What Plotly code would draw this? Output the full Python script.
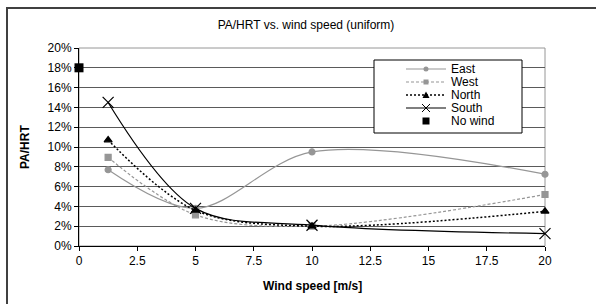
import plotly.graph_objects as go

# ---- data ----
wind_speed = [1.25, 5, 10, 20]
east = [0.077, 0.038, 0.095, 0.0725]
west = [0.0895, 0.0315, 0.020, 0.052]
north = [0.107, 0.036, 0.020, 0.035]
south = [0.145, 0.038, 0.021, 0.0125]
no_wind_x = [0]
no_wind_y = [0.18]
series_names = ["East", "West", "North", "South", "No wind"]
x_ticks = [0, 2.5, 5, 7.5, 10, 12.5, 15, 17.5, 20]
x_tick_labels = ["0", "2.5", "5", "7.5", "10", "12.5", "15", "17.5", "20"]

W, H = 596, 304
L, R, T, B = 79, 51, 48, 58
PW, PH = W - L - R, H - T - B
FONT = "Liberation Sans, Arial, sans-serif"
GRAY = "#969696"
WEST_DASH = "3px,2px"
NORTH_DASH = "2px,2px"

def px2paper(px, py):
    return (px - L) / PW, (H - B - py) / PH

fig = go.Figure()
styles = [
    (east, GRAY, "solid", "circle", 6, 1.2),
    (west, GRAY, WEST_DASH, "square", 6, 1.2),
    (north, "black", NORTH_DASH, "triangle-up", 7, 1.5),
    (south, "black", "solid", "x-thin-open", 11, 1.2),
]
for (vals, col, dash, sym, sz, lw), name in zip(styles, series_names[:4]):
    fig.add_trace(go.Scatter(
        x=wind_speed, y=vals, name=name, mode="lines+markers",
        line=dict(color=col, width=lw, dash=dash, shape="spline", smoothing=0.95),
        marker=dict(symbol=sym, size=sz, color=col, line=dict(color=col, width=1.2)),
        cliponaxis=False, showlegend=False,
    ))
fig.add_trace(go.Scatter(
    x=no_wind_x, y=no_wind_y, name=series_names[4], mode="markers",
    marker=dict(symbol="square", size=9, color="black"),
    cliponaxis=False, showlegend=False,
))

shapes = []
annotations = []
# outer chart frame (right and bottom edges lie outside the picture)
x0, y0 = px2paper(7, 312)
x1, y1 = px2paper(605, 8)
shapes.append(dict(type="rect", xref="paper", yref="paper", x0=x0, y0=y0, x1=x1, y1=y1,
                   line=dict(color="#404040", width=2), layer="below"))
# plot area border (gray)
shapes.append(dict(type="rect", xref="paper", yref="paper", x0=0, y0=0, x1=1, y1=1,
                   line=dict(color=GRAY, width=1), layer="below"))

# custom legend (compact, like the reference)
lx0, ly0 = px2paper(374, 133)
lx1, ly1 = px2paper(522, 60)
shapes.append(dict(type="rect", xref="paper", yref="paper", x0=lx0, y0=ly0, x1=lx1, y1=ly1,
                   line=dict(color="black", width=1), fillcolor="white", layer="above"))
leg_rows = [69, 82, 95, 108, 121]
leg_line = [(GRAY, "solid", 1.2), (GRAY, WEST_DASH, 1.2), ("black", NORTH_DASH, 1.5),
            ("black", "solid", 1.2), None]
MX = 426

def prect(cx, cy, h, color, kind="rect"):
    a, b = px2paper(cx - h, cy + h)
    c, d = px2paper(cx + h, cy - h)
    return dict(type=kind, xref="paper", yref="paper", x0=a, y0=b, x1=c, y1=d,
                line=dict(color=color, width=0), fillcolor=color, layer="above")

def pline(xa, ya, xb, yb, color, width=1.2, dash="solid"):
    a, b = px2paper(xa, ya)
    c, d = px2paper(xb, yb)
    return dict(type="line", xref="paper", yref="paper", x0=a, y0=b, x1=c, y1=d,
                line=dict(color=color, width=width, dash=dash), layer="above")

for i, py in enumerate(leg_rows):
    if leg_line[i] is not None:
        col, dash, lw = leg_line[i]
        shapes.append(pline(406, py, 446, py, col, lw, dash))
    tx, ty = px2paper(449, py)
    annotations.append(dict(xref="paper", yref="paper", x=tx, y=ty, text=series_names[i],
                            showarrow=False, font=dict(color="black", size=12, family=FONT),
                            xanchor="left", yanchor="middle"))
# legend symbols
shapes.append(prect(MX, leg_rows[0], 2.5, GRAY, "circle"))
shapes.append(prect(MX, leg_rows[1], 2.5, GRAY))
ta = px2paper(MX - 3.5, leg_rows[2] + 3)
tb = px2paper(MX + 3.5, leg_rows[2] + 3)
tc = px2paper(MX, leg_rows[2] - 3.5)
shapes.append(dict(type="path", xref="paper", yref="paper",
                   path=f"M {ta[0]},{ta[1]} L {tb[0]},{tb[1]} L {tc[0]},{tc[1]} Z",
                   fillcolor="black", line=dict(color="black", width=0), layer="above"))
shapes.append(pline(MX - 4, leg_rows[3] - 4, MX + 4, leg_rows[3] + 4, "black", 1))
shapes.append(pline(MX - 4, leg_rows[3] + 4, MX + 4, leg_rows[3] - 4, "black", 1))
shapes.append(prect(MX, leg_rows[4], 3.5, "black"))

# axis titles
ax, ay = px2paper(312, 286)
annotations.append(dict(xref="paper", yref="paper", x=ax, y=ay, text="<b>Wind speed [m/s]</b>",
                        showarrow=False, font=dict(size=12, family=FONT, color="black"),
                        xanchor="center", yanchor="middle"))
bx, by = px2paper(25, 147)
annotations.append(dict(xref="paper", yref="paper", x=bx, y=by, text="<b>PA/HRT</b>",
                        showarrow=False, textangle=-90,
                        font=dict(size=12, family=FONT, color="black"),
                        xanchor="center", yanchor="middle"))

fig.update_layout(
    width=W, height=H,
    margin=dict(l=L, r=R, t=T, b=B),
    paper_bgcolor="white", plot_bgcolor="white",
    font=dict(family=FONT, size=12, color="black"),
    title=dict(text="PA/HRT vs. wind speed (uniform)", x=306 / W, xref="container",
               xanchor="center", y=1 - 25 / H, yref="container", yanchor="middle",
               font=dict(size=12, family=FONT, color="black")),
    showlegend=False,
    shapes=shapes,
    annotations=annotations,
)
fig.update_xaxes(
    range=[0, 20], tickvals=x_ticks, ticktext=x_tick_labels,
    showgrid=False, zeroline=False, showline=True, linecolor="black", linewidth=1,
    ticks="outside", ticklen=4, tickcolor="black", tickfont=dict(size=12),
)
fig.update_yaxes(
    range=[0, 0.20], dtick=0.02, tickformat=".0%",
    showgrid=True, gridcolor="#5a5a5a", gridwidth=1, zeroline=False,
    showline=True, linecolor="black", linewidth=1,
    ticks="outside", ticklen=4, tickcolor="black", tickfont=dict(size=12),
)

fig.write_html("out.html", config={"displayModeBar": False},
               post_script="document.body.style.margin='0';document.body.style.overflow='hidden';")
